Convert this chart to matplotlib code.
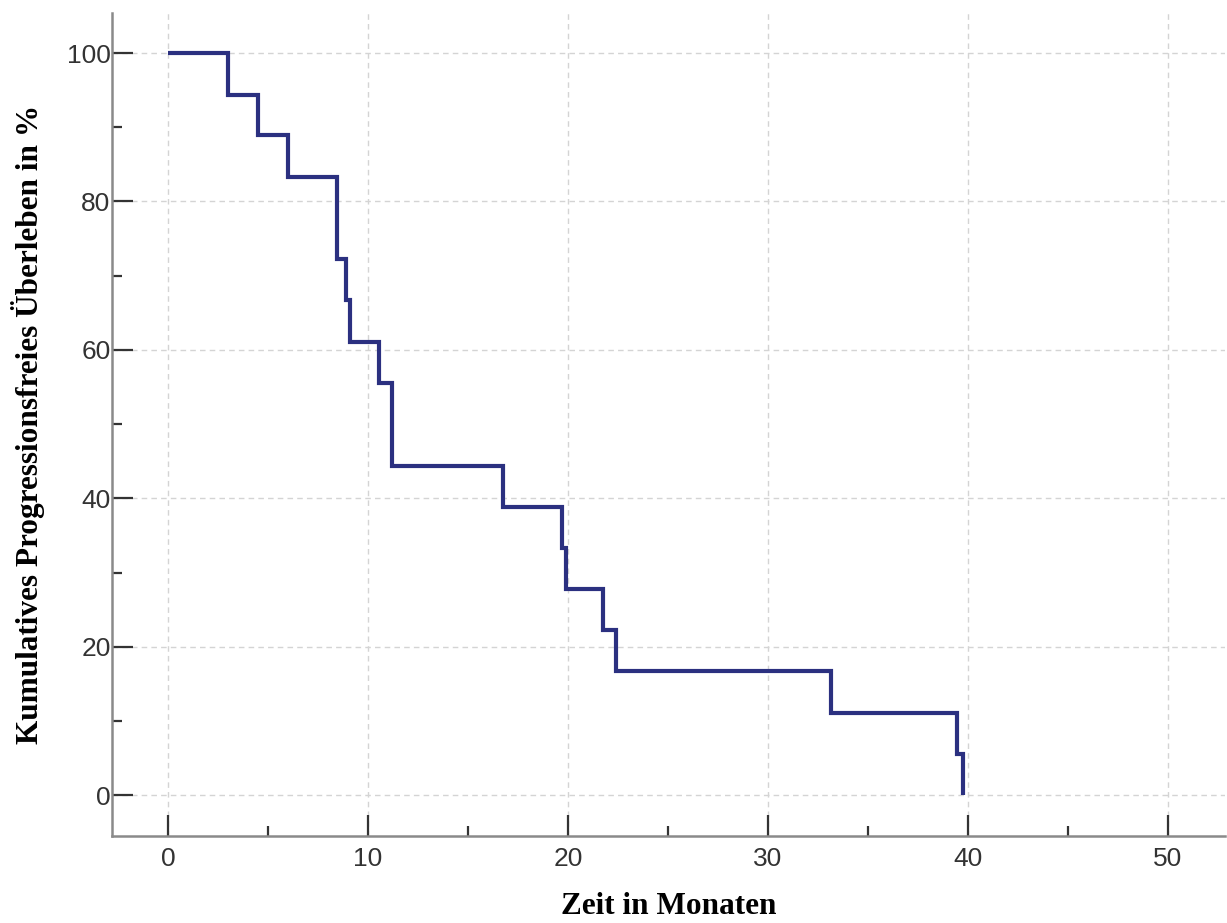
import numpy as np
import matplotlib.pyplot as plt
from matplotlib.ticker import MultipleLocator

# Kaplan-Meier Daten
zeit = [0.0, 3.0, 4.5, 6.0, 8.45, 8.47, 8.9, 9.1, 10.55, 11.18, 11.22,
        16.77, 19.7, 19.88, 21.77, 22.38, 33.13, 39.43, 39.77]
ueberleben = [100.0, 94.4, 88.9, 83.3, 77.8, 72.2, 66.7, 61.1, 55.6, 50.0,
              44.4, 38.9, 33.3, 27.8, 22.2, 16.7, 11.1, 5.6, 0.0]

x_ticks = [0, 10, 20, 30, 40, 50]
y_ticks = [0, 20, 40, 60, 80, 100]

LINE_COLOR = '#2b3080'
SPINE_COLOR = '#8a8a8a'
GRID_COLOR = '#d4d4d4'

fig = plt.figure(figsize=(12.27, 9.23), dpi=100)
ax = fig.add_axes([112 / 1227, 1 - 836 / 923, (1225 - 112) / 1227, (836 - 13) / 923])

ax.step(zeit, ueberleben, where='post', color=LINE_COLOR, linewidth=3.0,
        solid_joinstyle='miter', solid_capstyle='butt', zorder=3)

ax.set_xlim(-2.8, 52.85)
ax.set_ylim(-5.5, 105.4)

ax.set_xticks(x_ticks)
ax.set_yticks(y_ticks)
ax.xaxis.set_minor_locator(MultipleLocator(5))
ax.yaxis.set_minor_locator(MultipleLocator(10))

ax.grid(True, which='major', color=GRID_COLOR, linestyle=(0, (4, 3)), linewidth=1.0)
ax.set_axisbelow(True)

for side in ['top', 'right']:
    ax.spines[side].set_visible(False)
for side in ['left', 'bottom']:
    ax.spines[side].set_color(SPINE_COLOR)
    ax.spines[side].set_linewidth(1.8)

ax.tick_params(axis='both', which='major', direction='in', length=15, width=1.6,
               color='#333333', labelcolor='#333333', labelsize=19)
ax.tick_params(axis='both', which='minor', direction='in', length=7.5, width=1.6,
               color='#333333')
ax.tick_params(axis='x', which='major', pad=8)
ax.tick_params(axis='y', which='major', pad=1)
for lbl in ax.get_xticklabels() + ax.get_yticklabels():
    lbl.set_family('Liberation Sans')

label_font = dict(family='Liberation Serif', weight='bold', size=22.5, color='black')
ax.set_xlabel('Zeit in Monaten', labelpad=15, **label_font)
ax.set_ylabel('Kumulatives Progressionsfreies Überleben in %', labelpad=16, **label_font)

fig.savefig('out.png', dpi=100)
